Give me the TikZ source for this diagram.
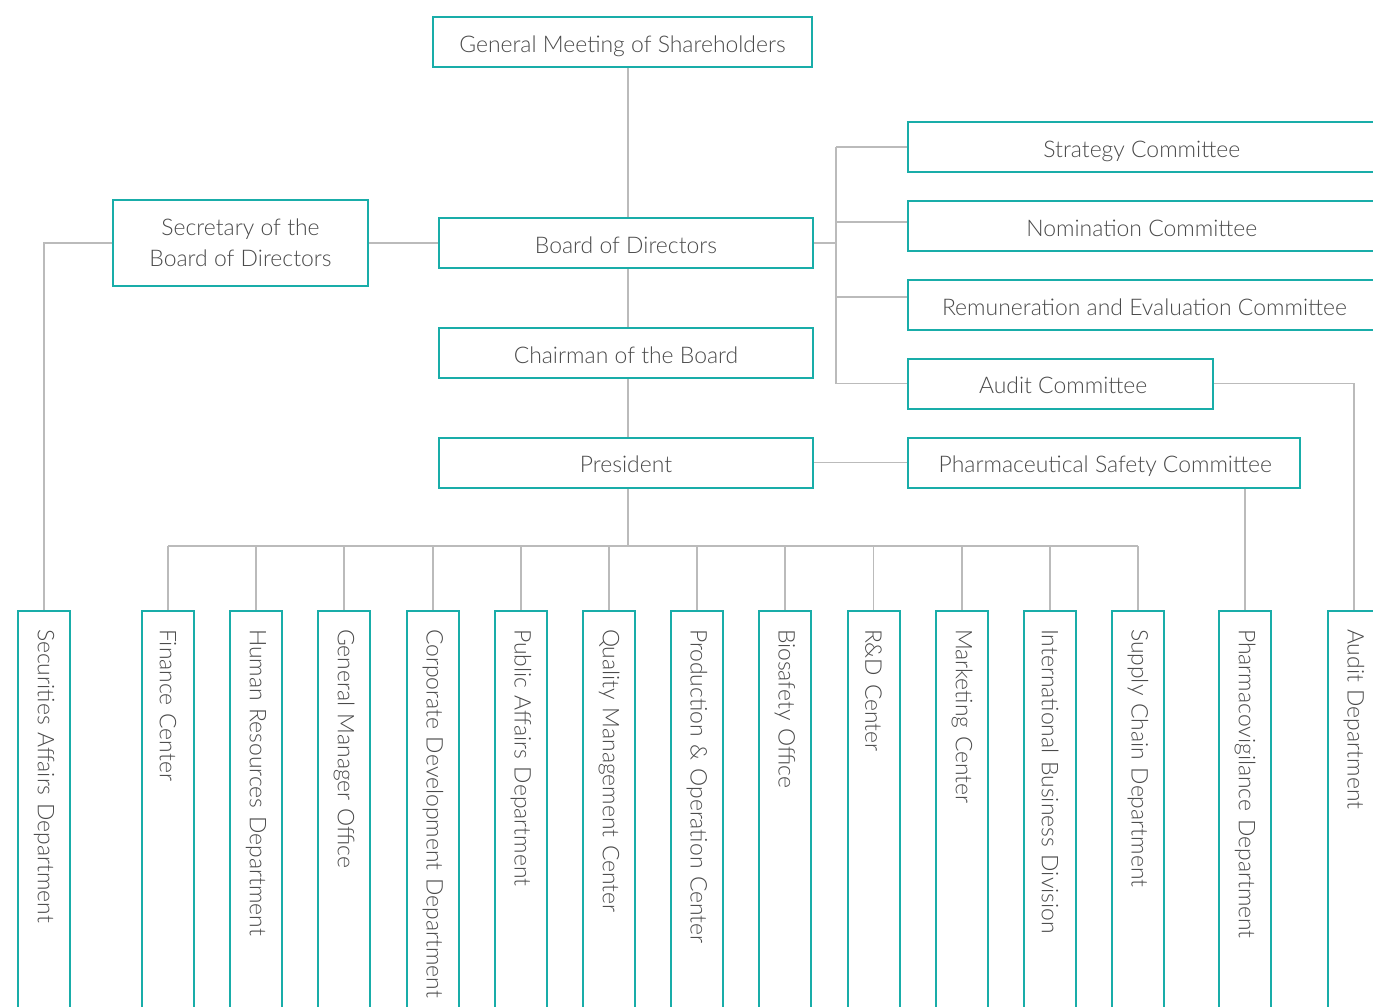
\documentclass[tikz,border=0pt]{standalone}
\usepackage{fontspec}
\setmainfont{Lato}[UprightFont={* Light}]
\newcommand{\lowr}[1]{\raisebox{-7.6pt}[0pt][0pt]{#1}}
\begin{document}
\begin{tikzpicture}[x=0.75pt,y=-0.75pt,
  box/.style={draw=teal1, line width=1.5pt, fill=white, text=txt, inner sep=0pt, font=\fontsize{17.2}{23}\selectfont, align=center},
  dept/.style={box, rotate=-90, anchor=west, minimum height=39pt, minimum width=307.5pt, text width=280.5pt, inner xsep=13.5pt, align=left},
  conn/.style={draw=ln, line width=1.1pt}]
\definecolor{teal1}{HTML}{19ADA9}
\definecolor{txt}{HTML}{4A4A4A}
\definecolor{ln}{HTML}{BBBBBB}
\clip (0,0) rectangle (1373,1006);
\useasboundingbox (0,0) rectangle (1373,1006);
% top chain
\node[box, minimum width=284.25pt, minimum height=37.5pt] (gms) at (622.5,42) {\lowr{General Meeting of Shareholders}};
\node[box, minimum width=191.25pt, minimum height=64.5pt] (sec) at (240.5,243) {Secretary of the\\Board of Directors};
\node[box, minimum width=280.5pt, minimum height=37.5pt] (bod) at (626,243) {\lowr{Board of Directors}};
\node[box, minimum width=280.5pt, minimum height=37.5pt] (chair) at (626,353) {\lowr{Chairman of the Board}};
\node[box, minimum width=280.5pt, minimum height=37.5pt] (pres) at (626,462.5) {\lowr{President}};
% committees
\node[box, minimum width=354.75pt, minimum height=37.5pt, anchor=west] (strat) at (907,147) {\hspace*{-2pt}\lowr{Strategy Committee}\hspace*{2pt}};
\node[box, minimum width=354.75pt, minimum height=37.5pt, anchor=west] (nom) at (907,226) {\hspace*{-2pt}\lowr{Nomination Committee}\hspace*{2pt}};
\node[box, minimum width=354.75pt, minimum height=37.5pt, anchor=west] (rem) at (907,305) {\lowr{Remuneration and Evaluation Committee}};
\node[box, minimum width=228.75pt, minimum height=37.5pt, anchor=west] (aud) at (907,383.5) {\hspace*{4pt}\lowr{Audit Committee}};
\node[box, minimum width=294pt, minimum height=37.5pt, anchor=west] (psc) at (907,462.5) {\hspace*{2pt}\lowr{Pharmaceutical Safety Committee}};
% departments
\node[dept] (dsec) at (44,610) {Securities Affairs Department};
\node[dept] (d1) at (168,610) {Finance Center};
\node[dept] (d2) at (256,610) {Human Resources Department};
\node[dept] (d3) at (344,610) {General Manager Office};
\node[dept] (d4) at (433,610) {Corporate Development Department};
\node[dept] (d5) at (521,610) {Public Affairs Department};
\node[dept] (d6) at (609,610) {Quality Management Center};
\node[dept] (d7) at (697,610) {Production \& Operation Center};
\node[dept] (d8) at (785,610) {Biosafety Office};
\node[dept] (d9) at (873.5,610) {R\&D Center};
\node[dept] (d10) at (962,610) {Marketing Center};
\node[dept] (d11) at (1050,610) {International Business Division};
\node[dept] (d12) at (1138,610) {Supply Chain Department};
\node[dept] (dpv) at (1245,610) {Pharmacovigilance Department};
\node[dept] (daud) at (1354,610) {Audit Department};
% connectors
\coordinate (spine) at (628,0);
\coordinate (brk) at (836,0);
\coordinate (bus) at (0,546);
\draw[conn] (gms.south -| spine) -- (bod.north -| spine);
\draw[conn] (bod.south -| spine) -- (chair.north -| spine);
\draw[conn] (chair.south -| spine) -- (pres.north -| spine);
\draw[conn] (pres.south -| spine) -- (spine |- bus);
\draw[conn] (d1.west |- bus) -- (d12.west |- bus);
\foreach \d in {d1,d2,d3,d4,d5,d6,d7,d8,d9,d10,d11,d12}{
  \draw[conn] (\d.west |- bus) -- (\d.west);
}
\draw[conn] (sec.east) -- (bod.west);
\draw[conn] (sec.west) -| (dsec.west);
\draw[conn] (bod.east) -- (bod.east -| brk);
\draw[conn] (strat.west -| brk) -- (aud.west -| brk);
\draw[conn] (strat.west -| brk) -- (strat.west);
\draw[conn] ([yshift=3pt]nom.west -| brk) -- ([yshift=3pt]nom.west);
\draw[conn] ([yshift=6pt]rem.west -| brk) -- ([yshift=6pt]rem.west);
\draw[conn] (aud.west -| brk) -- (aud.west);
\draw[conn] (aud.east) -| (daud.west);
\draw[conn] (pres.east) -- (psc.west);
\draw[conn] (dpv.west |- psc.south) -- (dpv.west);
\end{tikzpicture}
\end{document}
